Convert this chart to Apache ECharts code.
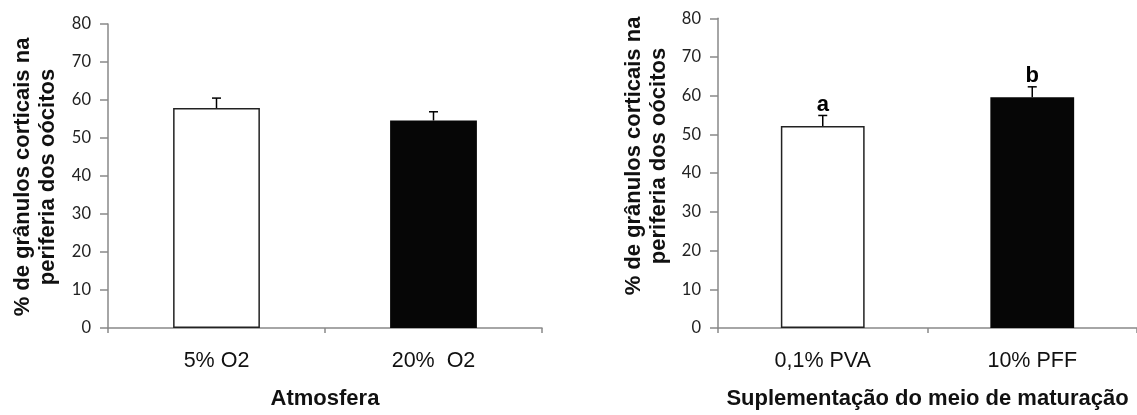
<!DOCTYPE html>
<html>
<head>
<meta charset="utf-8">
<script src="https://cdn.jsdelivr.net/npm/echarts@6/dist/echarts.min.js"></script>
<style>
html,body{margin:0;padding:0;background:#fff;}
#chart{width:1137px;height:415px;}
</style>
</head>
<body>
<div id="chart"></div>
<script>
// ---- data ----
const categories1 = ['5% O2', '20%  O2'];
const means1 = [57.9, 54.6];
const se1 = [2.6, 2.3];

const categories2 = ['0,1% PVA', '10% PFF'];
const means2 = [52.2, 59.6];
const se2 = [2.7, 2.7];
const letters2 = ['a', 'b'];

const yTicks = [0, 10, 20, 30, 40, 50, 60, 70, 80];
const yTitle = '% de grânulos corticais na\nperiferia dos oócitos';
const xTitle1 = 'Atmosfera';
const xTitle2 = 'Suplementação do meio de maturação';

// ---- style ----
const AXIS = '#898989';
const SANS = '"Liberation Sans", Arial, sans-serif';
const NUM = 'Lato, "Open Sans", sans-serif';
const barColors = ['#ffffff', '#060606'];

function xAxisCfg(cats, name, idx) {
  return {
    type: 'category', gridIndex: idx, data: cats,
    name: name, nameLocation: 'middle', nameGap: 60,
    nameTextStyle: {fontFamily: SANS, fontSize: 22, fontWeight: 'bold', color: '#111'},
    axisLine: {lineStyle: {color: AXIS, width: 1.5}},
    axisTick: {show: true, length: 5, lineStyle: {color: AXIS, width: 1.5}},
    axisLabel: {margin: 22, fontFamily: SANS, fontSize: 21.5, color: '#111'},
    splitLine: {show: false}
  };
}
function yAxisCfg(idx) {
  return {
    type: 'value', gridIndex: idx, min: yTicks[0], max: yTicks[yTicks.length - 1], interval: 10,
    axisLine: {show: true, lineStyle: {color: AXIS, width: 1.5}},
    axisTick: {show: true, length: 8, lineStyle: {color: AXIS, width: 1.5}},
    axisLabel: {margin: 17, fontFamily: NUM, fontSize: 16.5, color: '#222'},
    splitLine: {show: false}
  };
}
function barSeries(means, idx) {
  return {
    type: 'bar', xAxisIndex: idx, yAxisIndex: idx, barWidth: '40%',
    data: means.map((v, i) => ({
      value: v,
      itemStyle: {color: barColors[i], borderColor: i === 0 ? '#222' : barColors[i], borderWidth: i === 0 ? 1.5 : 0}
    })),
    silent: true
  };
}
function errSeries(means, se, letters, idx) {
  return {
    type: 'custom', xAxisIndex: idx, yAxisIndex: idx, z: 5, silent: true,
    data: means.map((v, i) => [i, v, v + se[i]]),
    renderItem: function (params, api) {
      const base = api.coord([api.value(0), api.value(1)]);
      const top = api.coord([api.value(0), api.value(2)]);
      const cx = base[0];
      const lw = {stroke: '#000', lineWidth: 1.5};
      const children = [
        {type: 'line', shape: {x1: cx, y1: base[1], x2: cx, y2: top[1]}, style: lw},
        {type: 'line', shape: {x1: cx - 4.5, y1: top[1], x2: cx + 4.5, y2: top[1]}, style: lw}
      ];
      if (letters) {
        children.push({
          type: 'text',
          style: {text: letters[params.dataIndex], x: cx, y: top[1] + 0.3,
                  align: 'center', verticalAlign: 'bottom',
                  fontFamily: SANS, fontSize: 22, fontWeight: 'bold', fill: '#000'}
        });
      }
      return {type: 'group', children: children};
    }
  };
}

const chart = echarts.init(document.getElementById('chart'), null, {renderer: 'canvas'});
chart.setOption({
  animation: false,
  backgroundColor: '#fff',
  grid: [
    {left: 108, top: 24, width: 434, height: 309},
    {left: 718, top: 18.3, width: 430, height: 313.7}
  ],
  xAxis: [xAxisCfg(categories1, xTitle1, 0), xAxisCfg(categories2, xTitle2, 1)],
  yAxis: [yAxisCfg(0), yAxisCfg(1)],
  series: [
    barSeries(means1, 0), errSeries(means1, se1, null, 0),
    barSeries(means2, 1), errSeries(means2, se2, letters2, 1)
  ],
  graphic: [
    {type: 'text', x: 35, y: 177, rotation: Math.PI / 2,
     style: {text: yTitle, align: 'center', verticalAlign: 'middle', lineHeight: 25,
             fontFamily: SANS, fontSize: 22, fontWeight: 'bold', fill: '#111'}},
    {type: 'text', x: 646.5, y: 156, rotation: Math.PI / 2,
     style: {text: yTitle, align: 'center', verticalAlign: 'middle', lineHeight: 25,
             fontFamily: SANS, fontSize: 22, fontWeight: 'bold', fill: '#111'}}
  ]
});
</script>
</body>
</html>
